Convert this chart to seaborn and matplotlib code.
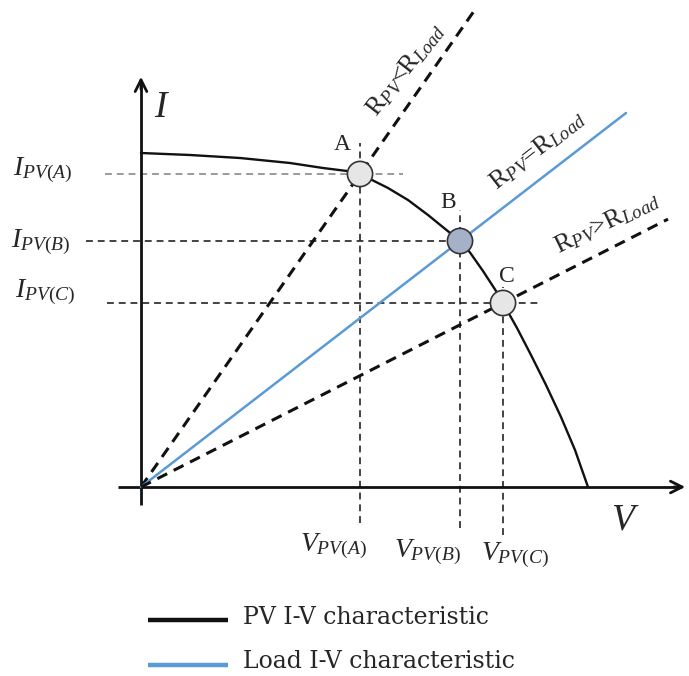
import matplotlib
matplotlib.use("Agg")
import matplotlib.pyplot as plt
import pandas as pd
import seaborn as sns

# PV I-V characteristic (voltage, current)
pv_v = [0.0, 4.9, 9.9, 14.9, 18.2, 20.6, 21.9, 22.7, 24.7, 26.7, 28.7, 30.3, 31.9,
        32.9, 34.2, 35.6, 36.2, 37.6, 39.0, 40.5, 42.0, 43.4, 44.7]
pv_i = [33.4, 33.2, 32.9, 32.4, 31.9, 31.6, 31.3, 30.9, 29.9, 28.7, 27.2, 25.9, 24.6,
        23.45, 21.6, 19.45, 18.4, 15.9, 13.2, 10.2, 7.0, 3.7, 0.0]

# Operating points where the load lines cross the PV curve
op_names = ["A", "B", "C"]
op_v = [21.9, 31.9, 36.2]
op_i = [31.3, 24.6, 18.4]
op_fill = ["#e6e6e6", "#a4b1c9", "#e6e6e6"]

# Load lines (through the origin and each operating point)
load_v_end = [33.4, 48.5, 52.7]
load_labels = [r"R$_{PV}$<R$_{Load}$", r"R$_{PV}$=R$_{Load}$", r"R$_{PV}$>R$_{Load}$"]

legend_labels = ["PV I-V characteristic", "Load I-V characteristic"]

BLUE = "#5a9ad6"
INK = "#111111"

sns.set_theme(style="white")
plt.rcParams["font.family"] = ["Liberation Serif", "DejaVu Serif"]
plt.rcParams["mathtext.fontset"] = "custom"
plt.rcParams["mathtext.rm"] = "Liberation Serif"
plt.rcParams["mathtext.it"] = "Liberation Serif:italic"

fig = plt.figure(figsize=(6.89, 6.76), dpi=100)
ax = fig.add_axes([0, 0, 1, 1])
ax.set_xlim(-14.1, 54.8)
ax.set_ylim(-18.9, 48.7)
ax.axis("off")

# Axes with arrow heads
ax.plot([-2.3, 54.0], [0, 0], color=INK, lw=2.0, solid_capstyle="butt", zorder=3)
ax.annotate("", xy=(54.7, 0), xytext=(53.0, 0),
            arrowprops=dict(arrowstyle="->,head_length=0.7,head_width=0.35", lw=2.0, color=INK))
ax.plot([0, 0], [-1.8, 40.5], color=INK, lw=2.0, solid_capstyle="butt", zorder=3)
ax.annotate("", xy=(0, 41.3), xytext=(0, 39.5),
            arrowprops=dict(arrowstyle="->,head_length=0.7,head_width=0.35", lw=2.0, color=INK))
ax.text(2.1, 37.9, r"$I$", fontsize=27, ha="center", va="center")
ax.text(48.4, -3.3, r"$V$", fontsize=27, ha="center", va="center")

# Projection guides for each operating point
h_start = [-3.6, -5.5, -3.4]
h_end = [26.2, 31.9, 39.9]
h_color = ["#7f7f7f", INK, INK]
v_top = [34.4, 27.7, 20.0]
v_bottom = [-3.6, -4.1, -4.8]
dash = (0, (4.5, 3.2))
for k in range(3):
    ax.plot([h_start[k], h_end[k]], [op_i[k], op_i[k]], color=h_color[k], lw=1.1, linestyle=dash, zorder=2)
    ax.plot([op_v[k], op_v[k]], [v_bottom[k], v_top[k]], color=INK, lw=1.1, linestyle=dash, zorder=2)

# Load lines
for k in range(3):
    end_i = load_v_end[k] * op_i[k] / op_v[k]
    df = pd.DataFrame({"V": [0.0, load_v_end[k]], "I": [0.0, end_i]})
    if k == 1:
        sns.lineplot(data=df, x="V", y="I", ax=ax, color=BLUE, lw=1.8, zorder=4)
    else:
        sns.lineplot(data=df, x="V", y="I", ax=ax, color=INK, lw=2.2,
                     linestyle=(0, (3.6, 2.4)), zorder=4)

# PV curve
pv = pd.DataFrame({"V": pv_v, "I": pv_i})
sns.lineplot(data=pv, x="V", y="I", ax=ax, sort=False, color=INK, lw=1.7, zorder=5)

# Operating points
ops = pd.DataFrame({"V": op_v, "I": op_i, "name": op_names})
sns.scatterplot(data=ops, x="V", y="I", hue="name", palette=dict(zip(op_names, op_fill)),
                s=330, edgecolor="#333333", linewidth=1.2, legend=False, ax=ax, zorder=6)

ax.set_xlabel("")
ax.set_ylabel("")

# Point letters
letter_pos = [(20.1, 34.2), (30.7, 28.5), (36.6, 21.0)]
for name, (x, y) in zip(op_names, letter_pos):
    ax.text(x, y, name, fontsize=17, ha="center", va="center")

# Current and voltage labels
i_lab_x = [-9.8, -10.0, -9.6]
i_lab_y = [31.7, 24.5, 19.5]
v_lab_x = [19.2, 28.6, 37.4]
v_lab_y = [-5.9, -6.5, -6.8]
for k, name in enumerate(op_names):
    ax.text(i_lab_x[k], i_lab_y[k], r"$I_{PV(%s)}$" % name, fontsize=20, ha="center", va="center")
    ax.text(v_lab_x[k], v_lab_y[k], r"$V_{PV(%s)}$" % name, fontsize=20, ha="center", va="center")

# Load line labels
lab_pos = [(26.4, 41.7), (39.6, 33.7), (46.6, 26.4)]
lab_rot = [52, 38, 26]
for (x, y), rot, text in zip(lab_pos, lab_rot, load_labels):
    ax.text(x, y, text, fontsize=19, rotation=rot, rotation_mode="anchor",
            ha="center", va="center")

# Legend drawn beneath the plot
leg_y = [-13.3, -17.8]
leg_col = [INK, BLUE]
for k in range(2):
    ax.plot([0.7, 8.7], [leg_y[k], leg_y[k]], color=leg_col[k], lw=3.2, solid_capstyle="butt")
    ax.text(10.2, leg_y[k] + 0.3, legend_labels[k], fontsize=17, ha="left", va="center",
            family=["DejaVu Serif"])

fig.savefig("out.png", dpi=100)
